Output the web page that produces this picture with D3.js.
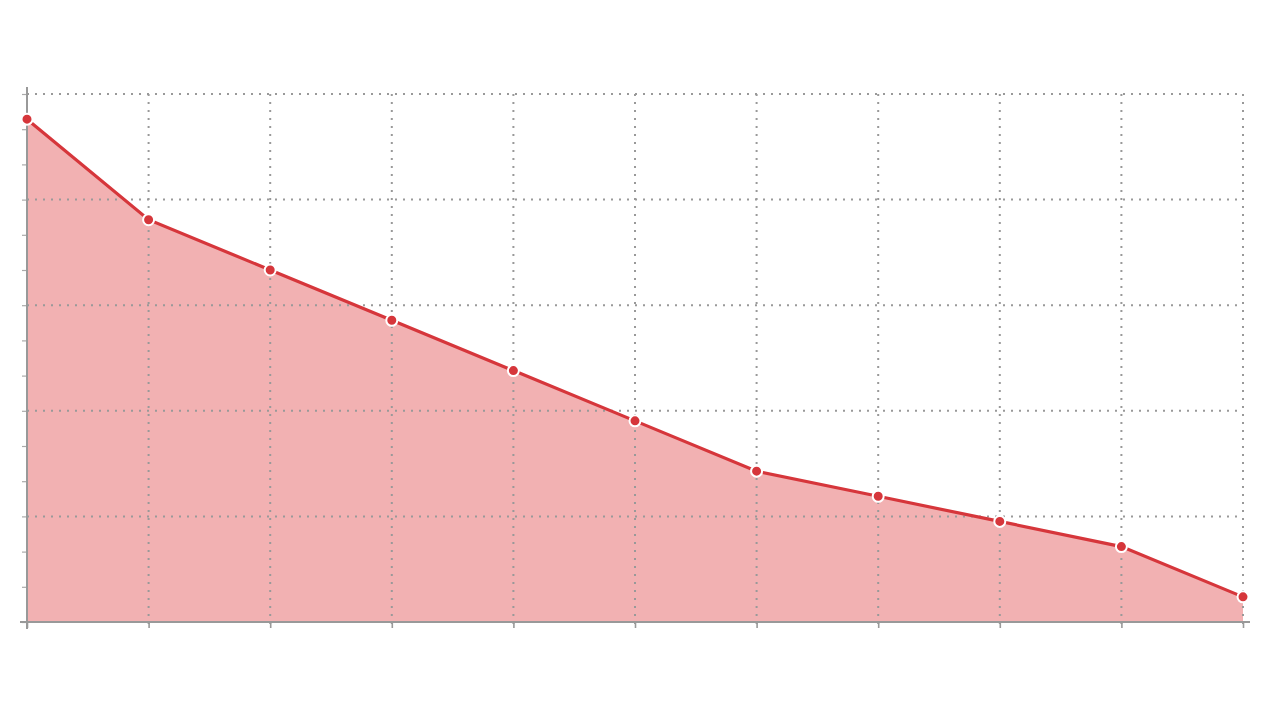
<!DOCTYPE html>
<html><head><meta charset="utf-8">
<script src="https://cdn.jsdelivr.net/npm/d3@7"></script>
<style>html,body{margin:0;padding:0;background:#fff;}svg{display:block;}</style>
</head><body>
<svg id="c" width="1280" height="720"></svg>
<script>
const categories = [0,1,2,3,4,5,6,7,8,9,10];
const values = [20,16,14,12,10,8,6,5,4,3,1];
const yMax = 21;
const gridTicks = [0,4.2,8.4,12.6,16.8,21];
const minorTicks = d3.range(0, 21.001, 1.4);

const svg = d3.select("#c");
const x = d3.scaleLinear().domain([0,10]).range([27,1243]);
const y = d3.scaleLinear().domain([0,yMax]).range([622,94]);

// area
svg.append("path")
  .datum(values)
  .attr("fill","#f2b1b2")
  .attr("d", d3.area().x((d,i)=>x(categories[i])).y0(y(0)).y1(d=>y(d)));

// horizontal grid
svg.append("g").selectAll("line").data(gridTicks.slice(1)).join("line")
  .attr("x1",x(0)).attr("x2",x(10))
  .attr("y1",d=>y(d)).attr("y2",d=>y(d))
  .attr("stroke","#999").attr("stroke-width",2).attr("stroke-dasharray","2,6");
// vertical grid
svg.append("g").selectAll("line").data(categories.slice(1)).join("line")
  .attr("x1",d=>x(d)).attr("x2",d=>x(d))
  .attr("y1",y(yMax)).attr("y2",y(0)+7)
  .attr("stroke","#999").attr("stroke-width",2).attr("stroke-dasharray","2,6");

// y axis
const yAxis = d3.axisLeft(y).tickValues(minorTicks).tickSize(5).tickFormat("");
const gy = svg.append("g").attr("transform",`translate(${x(0)},0)`).call(yAxis);
gy.select(".domain").remove();
gy.selectAll(".tick line").attr("stroke","#aaa").attr("stroke-width",1.2);
svg.append("line").attr("x1",x(0)).attr("x2",x(0)).attr("y1",87).attr("y2",629)
  .attr("stroke","#999").attr("stroke-width",2);

// x axis
const xAxis = d3.axisBottom(x).tickValues(categories).tickSize(6).tickFormat("");
const gx = svg.append("g").attr("transform",`translate(0,${y(0)})`).call(xAxis);
gx.select(".domain").remove();
gx.selectAll(".tick line").attr("stroke","#999").attr("stroke-width",1.6);
svg.append("line").attr("x1",20).attr("x2",1250).attr("y1",y(0)).attr("y2",y(0))
  .attr("stroke","#999").attr("stroke-width",2);

// line
svg.append("path").datum(values)
  .attr("fill","none").attr("stroke","#d6363b").attr("stroke-width",3.2)
  .attr("d", d3.line().x((d,i)=>x(categories[i])).y(d=>y(d)));

// points
svg.append("g").selectAll("circle").data(values).join("circle")
  .attr("cx",(d,i)=>x(categories[i])).attr("cy",d=>y(d)).attr("r",5.5)
  .attr("fill","#d6363b").attr("stroke","#fff").attr("stroke-width",2);
</script>
</body></html>
